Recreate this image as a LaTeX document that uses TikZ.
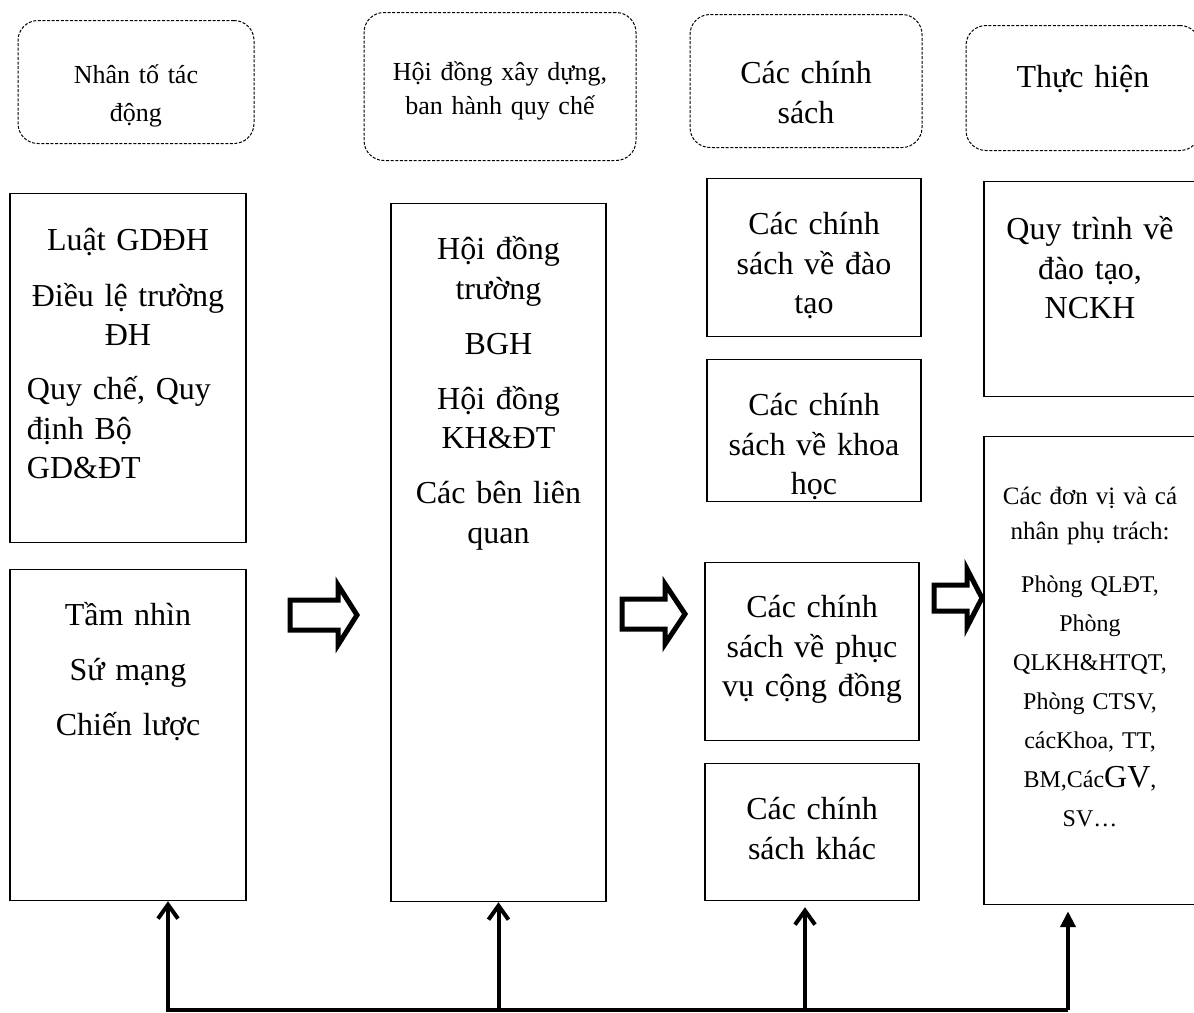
\documentclass[tikz,border=0pt]{standalone}
\usepackage{fontspec}
\setmainfont{Liberation Serif}
\usetikzlibrary{arrows.meta}
\newcommand{\bigtxt}{\fontsize{16}{19.75}\selectfont}
\newcommand{\headtxt}{\fontsize{13}{19}\selectfont}

\begin{document}
\begin{tikzpicture}[x=0.5pt, y=-0.5pt,
    panel/.style={draw, line width=0.6pt, anchor=north, inner sep=0pt, align=center, font=\bigtxt},
    headbox/.style={panel, line width=0.5pt, dash pattern=on 1.5pt off 0.8pt, rounded corners=10pt},
    hollowarrow/.style={line width=2.5pt, line join=miter},
    feed/.style={line width=2pt, -{Straight Barb[length=7pt,width=10pt]}}]
\useasboundingbox (0,0) rectangle (1194,1012);
\clip (0,0) rectangle (1194,1012);

% column headers
\node[headbox, text width=118pt, text height=31.5pt, text depth=30pt, font=\headtxt] (factorhead) at (136,20) {Nhân tố tác\\động};
\node[headbox, text width=136pt, text height=34pt, text depth=40pt, font=\fontsize{13}{17}\selectfont] (councilhead) at (500,12) {Hội đồng xây dựng,\\ban hành quy chế};
\node[headbox, text width=116pt, text height=34.5pt, text depth=32pt] (policyhead) at (806,14) {Các chính\\sách};
\node[headbox, text width=117pt, text height=31pt, text depth=31.5pt] (implhead) at (1083,25) {Thực hiện};

% factors
\node[panel, text width=118pt, text height=28.5pt, text depth=146pt] (lawbox) at (128,193)
  {Luật GDĐH\\[8pt]Điều lệ trường\\ĐH\\[7.25pt]\makebox[101pt][l]{Quy chế, Quy}\\\makebox[101pt][l]{định Bộ}\\\makebox[101pt][l]{GD\&ĐT}};
\node[panel, text width=118pt, text height=28pt, text depth=137.5pt] (visionbox) at (128,569)
  {Tầm nhìn\\[7.75pt]Sứ mạng\\[7.75pt]Chiến lược};

% council
\node[panel, text width=107.5pt, text height=28pt, text depth=321pt] (councilbox) at (498.5,203)
  {Hội đồng\\trường\\[7.75pt]BGH\\[7.75pt]Hội đồng\\KH\&ĐT\\[7.75pt]Các bên liên\\quan};

% policies
\node[panel, text width=107pt, text height=28pt, text depth=51pt] (trainpol) at (814,178) {Các chính\\sách về đào\\tạo};
\node[panel, text width=107pt, text height=28pt, text depth=43pt] (sciencepol) at (814,359) {Các chính\\sách về khoa\\học};
\node[panel, text width=107pt, text height=27.5pt, text depth=61.5pt] (servicepol) at (812,562) {Các chính\\sách về phục\\vụ cộng đồng};
\node[panel, text width=107pt, text height=28pt, text depth=40.5pt] (otherpol) at (812,763) {Các chính\\sách khác};

% implementation
\node[panel, text width=106pt, text height=29pt, text depth=78.5pt] (procbox) at (1090,181) {Quy trình về\\đào tạo,\\NCKH};
\node[panel, text width=106pt, text height=34pt, text depth=200pt, font=\fontsize{12}{19.5}\selectfont] (unitbox) at (1090,436)
  {\begin{tabular}[t]{@{}c@{}}
   {\fontsize{12.5}{17.5}\selectfont Các đơn vị và cá}\\[-2pt]
   {\fontsize{12.5}{17.5}\selectfont nhân phụ trách:}\\[7pt]
   Phòng QLĐT,\\ Phòng\\ QLKH\&HTQT,\\ Phòng CTSV,\\ cácKhoa, TT,\\
   BM,Các{\fontsize{16}{19.5}\selectfont GV},\\ SV…
   \end{tabular}};

% block arrows
\foreach \tl/\hb/\tp/\yc/\sh/\hh in {290/338/357/615/15/30, 622/665/685/614/15/30, 934/967/982/598/13/29}
  \draw[hollowarrow] (\tl,\yc-\sh) -- (\hb,\yc-\sh) -- (\hb,\yc-\hh) -- (\tp,\yc) -- (\hb,\yc+\hh) -- (\hb,\yc+\sh) -- (\tl,\yc+\sh) -- cycle;

% feedback
\coordinate (busL) at (168,1010);
\coordinate (busR) at (1068,1010);
\draw[feed] (busR) -- (busL) -- (busL |- visionbox.south);
\draw[feed] (councilbox.south |- busL) -- (councilbox.south);
\draw[feed, shorten >=3pt] ([xshift=-3.5pt]otherpol.south |- busL) -- ([xshift=-3.5pt]otherpol.south);
\draw[line width=2pt, -{Triangle[length=8pt,width=7.5pt]}, shorten >=3pt] (busR) -- (busR |- unitbox.south);
\end{tikzpicture}
\end{document}
